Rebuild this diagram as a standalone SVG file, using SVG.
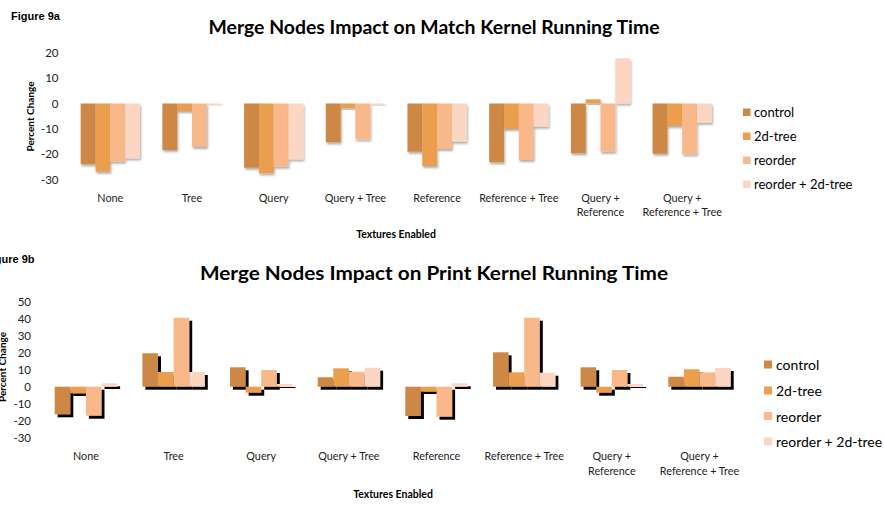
<svg xmlns="http://www.w3.org/2000/svg" width="884" height="506" viewBox="0 0 884 506">
  <defs>
    <filter id="softShadow" x="-30%" y="-30%" width="160%" height="160%">
      <feDropShadow dx="1" dy="2" stdDeviation="0.9" flood-color="#000" flood-opacity="0.32"/>
    </filter>
    <filter id="hardShadow" x="-40%" y="-40%" width="180%" height="180%">
      <feDropShadow dx="3" dy="3" stdDeviation="0.5" flood-color="#000" flood-opacity="1"/>
    </filter>
  </defs>
  <style>
    text { font-family: Lato, "Open Sans", "Liberation Sans", sans-serif; fill: #000; }
    .fig { font-family: "Liberation Sans", Arial, sans-serif; font-weight: bold; font-size: 11px; }
    .title { font-weight: bold; font-size: 19px; }
    .tick { font-size: 11.5px; text-anchor: end; fill: #222; }
    .ytitle { font-weight: bold; font-size: 10px; text-anchor: middle; }
    .xtitle { font-weight: bold; font-size: 10.5px; text-anchor: middle; }
    .cat { font-size: 10.8px; text-anchor: middle; fill: #222; }
    .leg1 { font-size: 13px; }
    .leg2 { font-size: 14px; }
    .c0 { fill: #CD8844; }
    .c1 { fill: #EC9E50; }
    .c2 { fill: #F9B88A; }
    .c3 { fill: #FBD6C2; }
    .a rect { filter: url(#softShadow); }
    .b rect { filter: url(#hardShadow); }
  </style>

  <!-- ===== Figure 9a: Match kernel ===== -->
  <g id="chart-a">
    <text class="fig" x="11" y="20">Figure 9a</text>
    <text class="title" x="434" y="34" text-anchor="middle" textLength="451" lengthAdjust="spacingAndGlyphs">Merge Nodes Impact on Match Kernel Running Time</text>

    <g id="axis-a">
      <text class="tick" x="58.5" y="57">20</text>
      <text class="tick" x="58.5" y="82">10</text>
      <text class="tick" x="58.5" y="107.5">0</text>
      <text class="tick" x="58.5" y="133">-10</text>
      <text class="tick" x="58.5" y="158">-20</text>
      <text class="tick" x="58.5" y="183.5">-30</text>
      <text class="ytitle" transform="translate(33.5 116.5) rotate(-90)">Percent Change</text>
      <text class="xtitle" x="396" y="238">Textures Enabled</text>
    </g>

    <g id="bars-a" class="a">
      <g id="a-none">
        <rect class="c0" x="80.7" y="103.5" width="14.9" height="60.8"/>
        <rect class="c1" x="95.5" y="103.5" width="14.9" height="68.2"/>
        <rect class="c2" x="110.3" y="103.5" width="14.9" height="58.2"/>
        <rect class="c3" x="125.1" y="103.5" width="14.9" height="54.8"/>
        <text class="cat" x="110.3" y="202">None</text>
      </g>
      <g id="a-tree">
        <rect class="c0" x="162.4" y="103.5" width="14.9" height="46.5"/>
        <rect class="c1" x="177.2" y="103.5" width="14.9" height="7.5"/>
        <rect class="c2" x="192" y="103.5" width="14.9" height="43.5"/>
        <rect class="c3" x="206.8" y="103.5" width="14.9" height="1.8"/>
        <text class="cat" x="192" y="202">Tree</text>
      </g>
      <g id="a-query">
        <rect class="c0" x="244.1" y="103.5" width="14.9" height="64.2"/>
        <rect class="c1" x="258.9" y="103.5" width="14.9" height="69.8"/>
        <rect class="c2" x="273.7" y="103.5" width="14.9" height="63.2"/>
        <rect class="c3" x="288.5" y="103.5" width="14.9" height="55.8"/>
        <text class="cat" x="273.7" y="202">Query</text>
      </g>
      <g id="a-query-tree">
        <rect class="c0" x="325.8" y="103.5" width="14.9" height="38.8"/>
        <rect class="c1" x="340.6" y="103.5" width="14.9" height="4.8"/>
        <rect class="c2" x="355.4" y="103.5" width="14.9" height="35.8"/>
        <rect class="c3" x="370.2" y="103.5" width="14.9" height="1.5"/>
        <text class="cat" x="355.4" y="202">Query + Tree</text>
      </g>
      <g id="a-reference">
        <rect class="c0" x="407.5" y="103.5" width="14.9" height="48.2"/>
        <rect class="c1" x="422.3" y="103.5" width="14.9" height="62.5"/>
        <rect class="c2" x="437.1" y="103.5" width="14.9" height="45.5"/>
        <rect class="c3" x="451.9" y="103.5" width="14.9" height="38.2"/>
        <text class="cat" x="437.1" y="202">Reference</text>
      </g>
      <g id="a-reference-tree">
        <rect class="c0" x="489.2" y="103.5" width="14.9" height="58.8"/>
        <rect class="c1" x="504" y="103.5" width="14.9" height="25.5"/>
        <rect class="c2" x="518.8" y="103.5" width="14.9" height="56.5"/>
        <rect class="c3" x="533.6" y="103.5" width="14.9" height="23.2"/>
        <text class="cat" x="518.8" y="202">Reference + Tree</text>
      </g>
      <g id="a-query-reference">
        <rect class="c0" x="570.9" y="103.5" width="14.9" height="49.8"/>
        <rect class="c1" x="585.7" y="99.3" width="14.9" height="4.2"/>
        <rect class="c2" x="600.5" y="103.5" width="14.9" height="48.2"/>
        <rect class="c3" x="615.3" y="58.3" width="14.9" height="45.2"/>
        <text class="cat" x="600.5" y="202">Query +</text>
        <text class="cat" x="600.5" y="216">Reference</text>
      </g>
      <g id="a-query-reference-tree">
        <rect class="c0" x="652.6" y="103.5" width="14.9" height="50.2"/>
        <rect class="c1" x="667.4" y="103.5" width="14.9" height="22.5"/>
        <rect class="c2" x="682.2" y="103.5" width="14.9" height="50.8"/>
        <rect class="c3" x="697" y="103.5" width="14.9" height="19.2"/>
        <text class="cat" x="682.2" y="202">Query +</text>
        <text class="cat" x="682.2" y="216">Reference + Tree</text>
      </g>
    </g>

    <g id="legend-a">
      <rect class="c0" x="743" y="108.5" width="7.5" height="7.5"/>
      <text class="leg1" x="754" y="117">control</text>
      <rect class="c1" x="743" y="132.5" width="7.5" height="7.5"/>
      <text class="leg1" x="754" y="141">2d-tree</text>
      <rect class="c2" x="743" y="156.5" width="7.5" height="7.5"/>
      <text class="leg1" x="754" y="165">reorder</text>
      <rect class="c3" x="743" y="180.5" width="7.5" height="7.5"/>
      <text class="leg1" x="754" y="189">reorder + 2d-tree</text>
    </g>
  </g>

  <!-- ===== Figure 9b: Print kernel ===== -->
  <g id="chart-b">
    <text class="fig" x="-15" y="263">Figure 9b</text>
    <text class="title" x="434" y="280" text-anchor="middle" textLength="468" lengthAdjust="spacingAndGlyphs">Merge Nodes Impact on Print Kernel Running Time</text>

    <g id="axis-b">
      <text class="tick" x="31" y="305.5">50</text>
      <text class="tick" x="31" y="322.5">40</text>
      <text class="tick" x="31" y="339.5">30</text>
      <text class="tick" x="31" y="356.5">20</text>
      <text class="tick" x="31" y="373.5">10</text>
      <text class="tick" x="31" y="390.5">0</text>
      <text class="tick" x="31" y="407.5">-10</text>
      <text class="tick" x="31" y="424.5">-20</text>
      <text class="tick" x="31" y="441.5">-30</text>
      <text class="ytitle" transform="translate(6 367) rotate(-90)">Percent Change</text>
      <text class="xtitle" x="393" y="498">Textures Enabled</text>
    </g>

    <g id="bars-b" class="b">
      <g id="b-none">
        <rect class="c0" x="54.7" y="386.7" width="15.6" height="27.6"/>
        <rect class="c1" x="70.3" y="386.7" width="15.6" height="6.6"/>
        <rect class="c2" x="85.9" y="386.7" width="15.6" height="29"/>
        <rect class="c3" x="101.5" y="383.3" width="15.6" height="3.4"/>
        <text class="cat" x="86" y="460">None</text>
      </g>
      <g id="b-tree">
        <rect class="c0" x="142.4" y="353.3" width="15.6" height="33.4"/>
        <rect class="c1" x="158" y="372" width="15.6" height="14.7"/>
        <rect class="c2" x="173.6" y="317.7" width="15.6" height="69"/>
        <rect class="c3" x="189.2" y="372" width="15.6" height="14.7"/>
        <text class="cat" x="173.6" y="460">Tree</text>
      </g>
      <g id="b-query">
        <rect class="c0" x="230" y="367.3" width="15.6" height="19.4"/>
        <rect class="c1" x="245.6" y="386.7" width="15.6" height="6"/>
        <rect class="c2" x="261.2" y="370" width="15.6" height="16.7"/>
        <rect class="c3" x="276.8" y="384" width="15.6" height="2.7"/>
        <text class="cat" x="261.2" y="460">Query</text>
      </g>
      <g id="b-query-tree">
        <rect class="c0" x="317.7" y="377.3" width="15.6" height="9.4"/>
        <rect class="c1" x="333.3" y="368.3" width="15.6" height="18.4"/>
        <rect class="c2" x="348.9" y="371.7" width="15.6" height="15"/>
        <rect class="c3" x="364.5" y="367.7" width="15.6" height="19"/>
        <text class="cat" x="348.9" y="460">Query + Tree</text>
      </g>
      <g id="b-reference">
        <rect class="c0" x="405.3" y="386.7" width="15.6" height="29.3"/>
        <rect class="c1" x="420.9" y="386.7" width="15.6" height="5"/>
        <rect class="c2" x="436.5" y="386.7" width="15.6" height="30"/>
        <rect class="c3" x="452.1" y="383.3" width="15.6" height="3.4"/>
        <text class="cat" x="436.5" y="460">Reference</text>
      </g>
      <g id="b-reference-tree">
        <rect class="c0" x="493" y="352.3" width="15.6" height="34.4"/>
        <rect class="c1" x="508.6" y="372.3" width="15.6" height="14.4"/>
        <rect class="c2" x="524.2" y="317.7" width="15.6" height="69"/>
        <rect class="c3" x="539.8" y="372.7" width="15.6" height="14"/>
        <text class="cat" x="524.2" y="460">Reference + Tree</text>
      </g>
      <g id="b-query-reference">
        <rect class="c0" x="580.6" y="367.3" width="15.6" height="19.4"/>
        <rect class="c1" x="596.2" y="386.7" width="15.6" height="6"/>
        <rect class="c2" x="611.8" y="370" width="15.6" height="16.7"/>
        <rect class="c3" x="627.4" y="384" width="15.6" height="2.7"/>
        <text class="cat" x="611.8" y="460">Query +</text>
        <text class="cat" x="611.8" y="475">Reference</text>
      </g>
      <g id="b-query-reference-tree">
        <rect class="c0" x="668.3" y="376.7" width="15.6" height="10"/>
        <rect class="c1" x="683.9" y="369.3" width="15.6" height="17.4"/>
        <rect class="c2" x="699.5" y="372.3" width="15.6" height="14.4"/>
        <rect class="c3" x="715.1" y="368" width="15.6" height="18.7"/>
        <text class="cat" x="699.5" y="460">Query +</text>
        <text class="cat" x="699.5" y="475">Reference + Tree</text>
      </g>
    </g>

    <g id="legend-b">
      <rect class="c0" x="764" y="360.5" width="8" height="8"/>
      <text class="leg2" x="776" y="370">control</text>
      <rect class="c1" x="764" y="386.5" width="8" height="8"/>
      <text class="leg2" x="776" y="396">2d-tree</text>
      <rect class="c2" x="764" y="412" width="8" height="8"/>
      <text class="leg2" x="776" y="421.5">reorder</text>
      <rect class="c3" x="764" y="437.5" width="8" height="8"/>
      <text class="leg2" x="776" y="447">reorder + 2d-tree</text>
    </g>
  </g>
</svg>
